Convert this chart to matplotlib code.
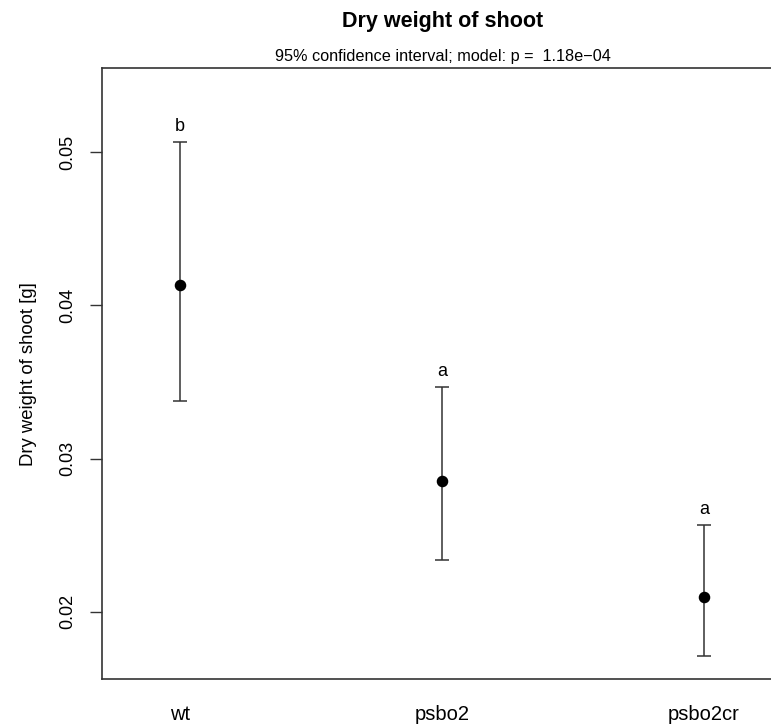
import matplotlib
matplotlib.use("Agg")
import matplotlib.pyplot as plt

# group means with 95% confidence limits
groups = ["wt", "psbo2", "psbo2cr"]
means = [0.04131, 0.02850, 0.02098]
lower = [0.03373, 0.02340, 0.01713]
upper = [0.05067, 0.03468, 0.02566]
letters = ["b", "a", "a"]
yticks = [0.02, 0.03, 0.04, 0.05]

plt.rcParams["font.family"] = ["Liberation Sans", "DejaVu Sans"]

fig = plt.figure(figsize=(7.71, 7.25), dpi=100)
ax = fig.add_axes([102 / 771, 46 / 725, 682 / 771, 610.5 / 725])

x = list(range(1, len(groups) + 1))
err = [[m - lo for m, lo in zip(means, lower)], [hi - m for m, hi in zip(means, upper)]]
ax.errorbar(x, means, yerr=err, fmt="o", color="black", ecolor="#333333",
            elinewidth=1.1, capsize=5, capthick=1.1, markersize=7.3)

for xi, hi, lab in zip(x, upper, letters):
    ax.annotate(lab, (xi, hi), xytext=(0, 5), textcoords="offset points",
                ha="center", va="bottom", fontsize=13)

ax.set_xlim(1 - 78 / 262, 3 + 80 / 262)
ax.set_ylim(0.01560, 0.05547)
ax.set_yticks(yticks)
ax.set_yticklabels([f"{v:.2f}" for v in yticks], rotation=90, va="center", fontsize=13)
ax.tick_params(axis="y", length=8.5, width=1, pad=10, color="#333333")
ax.set_xticks(x)
ax.set_xticklabels(groups, fontsize=14.5)
ax.tick_params(axis="x", length=0, pad=19)
ax.set_ylabel("Dry weight of shoot [g]", fontsize=13.3, labelpad=16)

for side in ("left", "bottom", "top"):
    ax.spines[side].set_color("#333333")
    ax.spines[side].set_linewidth(1.2)
ax.spines["right"].set_visible(False)

fig.text(443 / 771, 1 - 22 / 725, "Dry weight of shoot", ha="center", va="center",
         fontsize=15.5, fontweight="bold")
fig.text(443 / 771, 1 - 56 / 725, "95% confidence interval; model: p =  1.18e\u221204",
         ha="center", va="center", fontsize=11.7)

fig.savefig("out.png", dpi=100)
